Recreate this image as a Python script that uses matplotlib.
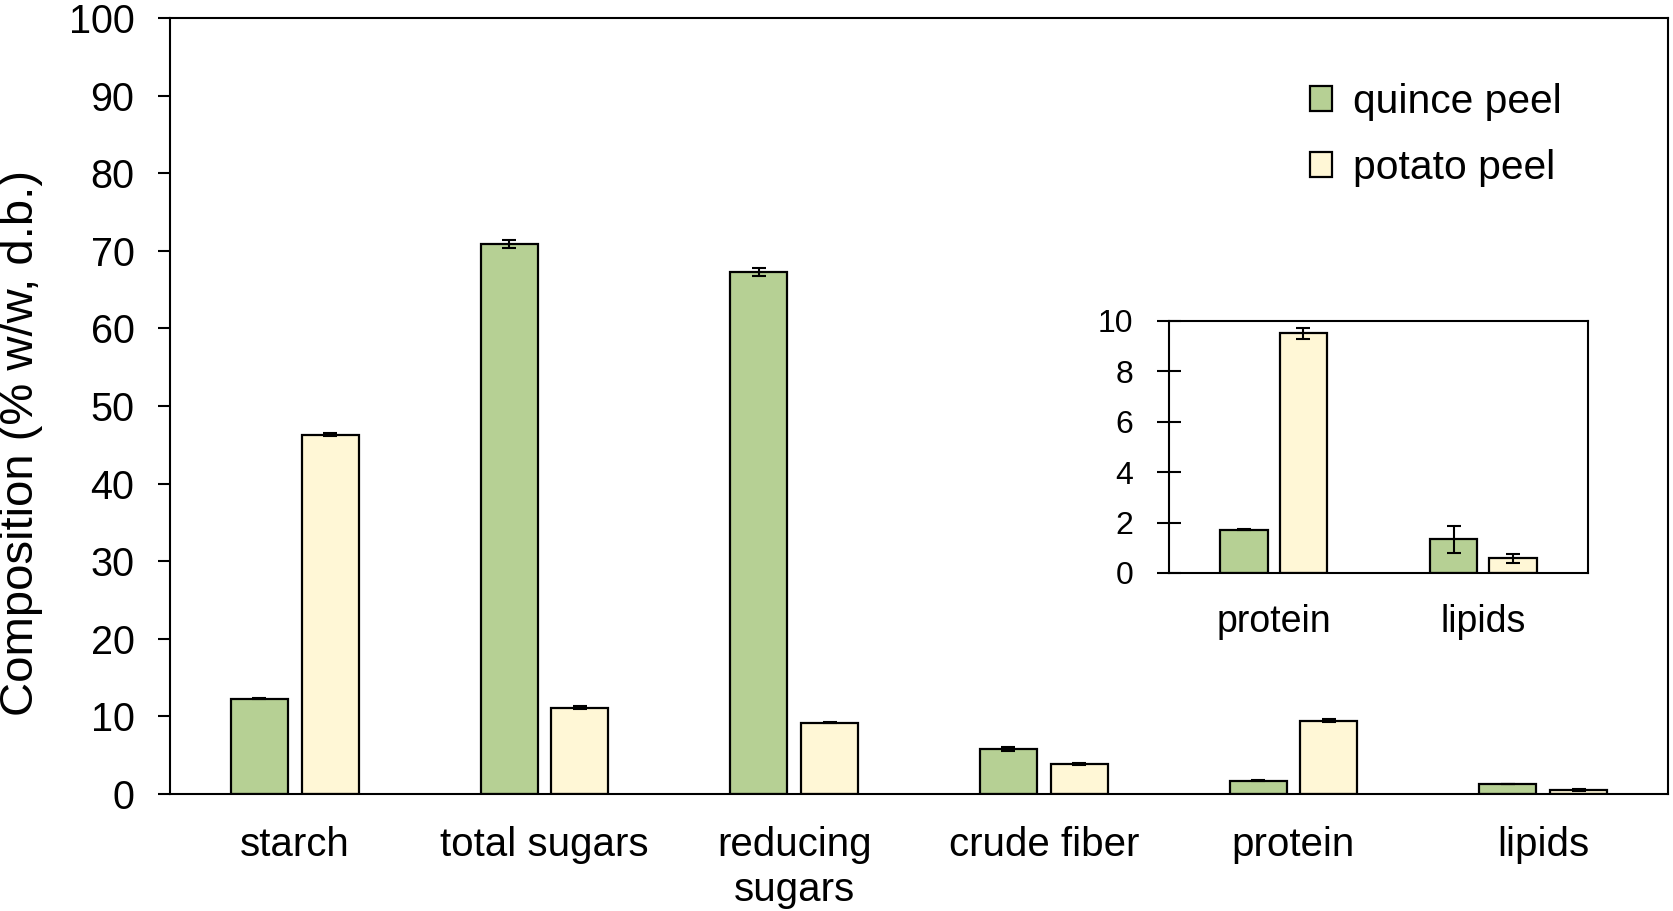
import numpy as np
import matplotlib
matplotlib.use('Agg')
import matplotlib.pyplot as plt

plt.rcParams['font.family'] = ['Liberation Sans', 'DejaVu Sans']

# dados
categorias = ['starch', 'total sugars', 'reducing\nsugars', 'crude fiber', 'protein', 'lipids']
quince = [12.3, 70.9, 67.3, 5.8, 1.72, 1.3]
quince_err = [0.1, 0.55, 0.5, 0.2, 0.05, 0.05]
potato = [46.3, 11.1, 9.2, 3.87, 9.45, 0.55]
potato_err = [0.2, 0.2, 0.1, 0.1, 0.2, 0.1]

inset_cat = ['protein', 'lipids']
inset_quince = [1.72, 1.33]
inset_quince_err = [0.03, 0.54]
inset_potato = [9.51, 0.58]
inset_potato_err = [0.22, 0.18]

verde = '#b6d094'
creme = '#fff7d6'

fig = plt.figure(figsize=(16.73, 9.11), dpi=100)
ax = fig.add_axes([170/1673, 1 - 794/911, 1498/1673, 776/911])

x = np.arange(len(categorias))
w = 0.228
off = 0.142
ekw = dict(elinewidth=1.5, capthick=1.5)
ax.bar(x - off, quince, w, yerr=quince_err, color=verde, edgecolor='black',
       linewidth=1.6, capsize=5, error_kw=ekw, label='quince peel')
ax.bar(x + off, potato, w, yerr=potato_err, color=creme, edgecolor='black',
       linewidth=1.6, capsize=5, error_kw=ekw, label='potato peel')

ax.set_xlim(-0.5, 5.5)
ax.set_ylim(0, 100)
ax.set_yticks(range(0, 101, 10))
ax.set_xticks(x)
ax.set_xticklabels(categorias, fontsize=29, linespacing=1.25)
ax.tick_params(axis='x', length=0, pad=23)
ax.tick_params(axis='y', direction='out', length=8.6, width=1.5, labelsize=28.5, pad=17)
for s in ax.spines.values():
    s.set_linewidth(1.5)
ax.set_ylabel('Composition (% w/w, d.b.)', fontsize=34)
ax.yaxis.set_label_coords(-0.085, 0.452)

ax.legend(loc='upper left', bbox_to_anchor=(1310/1673, 1 - 83/911),
          bbox_transform=fig.transFigure, frameon=False, fontsize=29.3,
          handlelength=0.55, handleheight=0.55, handletextpad=0.5,
          labelspacing=0.68, borderpad=0, borderaxespad=0)

# gráfico inserido
ins = fig.add_axes([1169/1673, 1 - 573/911, 419/1673, 252/911])
xi = np.arange(len(inset_cat))
ins.bar(xi - off, inset_quince, w, yerr=inset_quince_err, color=verde,
        edgecolor='black', linewidth=1.6, capsize=5, error_kw=ekw)
ins.bar(xi + off, inset_potato, w, yerr=inset_potato_err, color=creme,
        edgecolor='black', linewidth=1.6, capsize=5, error_kw=ekw)
ins.set_xlim(-0.5, 1.5)
ins.set_ylim(0, 10)
ins.set_yticks(range(0, 11, 2))
ins.set_xticks(xi)
ins.set_xticklabels(inset_cat, fontsize=27)
ins.tick_params(axis='x', length=0, pad=22)
ins.tick_params(axis='y', direction='inout', length=17, width=1.5, labelsize=23, pad=17)
for s in ins.spines.values():
    s.set_linewidth(1.5)

fig.savefig('out.png', dpi=100)
